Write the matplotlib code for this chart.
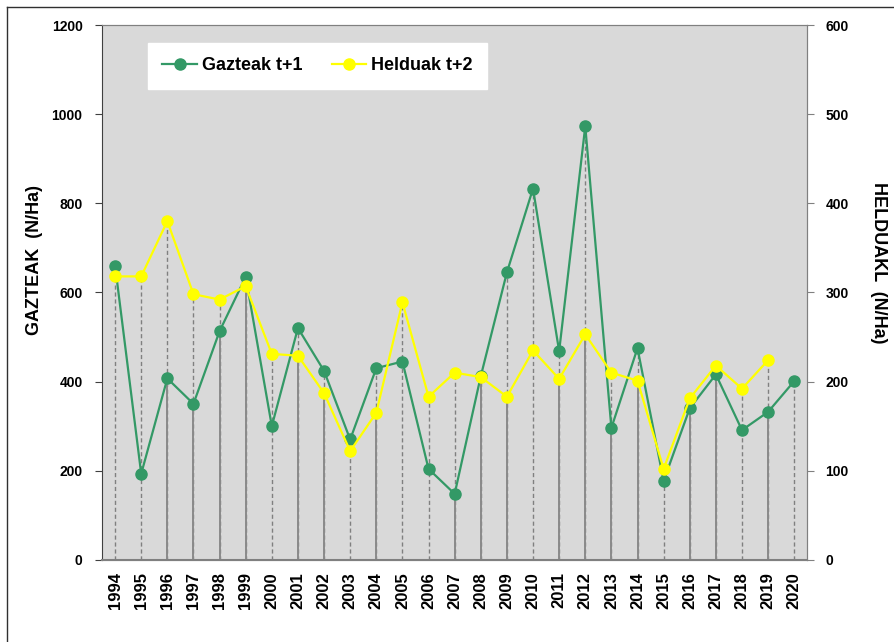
import matplotlib.pyplot as plt
import numpy as np
from matplotlib.lines import Line2D

# years on the x axis
years = [str(y) for y in range(1994, 2021)]

# Gazteak t+1 (left axis, N/Ha)
gazteak = [660, 193, 407, 350, 513, 635, 300, 520, 424, 270, 430, 445, 204,
           148, 412, 645, 833, 468, 973, 296, 475, 177, 340, 416, 291, 332, 401]

# Helduak t+2 (right axis, N/Ha) - no value for 2020
helduak = [318, 318, 380, 298, 292, 307, 231, 229, 187, 122, 165, 289, 183,
           210, 205, 183, 235, 203, 253, 210, 201, 102, 181, 218, 192, 224, np.nan]

# which years show a solid drop line below the lower point
solid_drop = [0, 0, 1, 1, 1, 1, 0, 1, 1, 0, 1, 0, 0,
              1, 1, 1, 0, 1, 1, 1, 1, 0, 1, 1, 0, 1, 0]

green = '#339966'
yellow = '#ffff00'
grey = '#808080'

plt.rcParams['font.family'] = ['Liberation Sans', 'DejaVu Sans']
plt.rcParams['font.weight'] = 'bold'

fig = plt.figure(figsize=(8.95, 6.42), dpi=100)
ax = fig.add_axes([0.114, 0.128, 0.788, 0.833])
ax2 = ax.twinx()

x = np.arange(len(years))
g = np.array(gazteak, dtype=float)
h = np.array(helduak, dtype=float) * 2  # right axis is half the left scale

# drop lines
for i in x:
    top = np.nanmax([g[i], h[i]])
    low = np.nanmin([g[i], h[i]])
    ax.vlines(i, 0, top, colors=grey, linestyles=(0, (3, 2)), linewidth=1.0, zorder=1)
    if solid_drop[i]:
        ax.vlines(i, 0, low, colors='#8a8a8a', linewidth=1.4, zorder=1)

ax.plot(x, gazteak, color=green, linewidth=1.6, marker='o', markersize=8,
        zorder=3)
ax2.plot(x, helduak, color=yellow, linewidth=1.6, marker='o', markersize=8,
         zorder=3)

ax.set_facecolor('#d9d9d9')
ax2.set_facecolor('none')
ax.set_xlim(-0.5, len(years) - 0.5)
ax.set_ylim(0, 1200)
ax2.set_ylim(0, 600)
ax.set_yticks(range(0, 1201, 200))
ax2.set_yticks(range(0, 601, 100))

ax.set_xticks(x)
ax.set_xticklabels(years, rotation=90, fontsize=12, fontweight='bold')
ax.tick_params(axis='x', length=0, pad=9)
ax.tick_params(axis='y', length=5, pad=9, labelsize=10, color='#404040')
ax2.tick_params(axis='y', length=5, pad=8, labelsize=10, color=grey)

for sp in ['top', 'bottom', 'right']:
    ax.spines[sp].set_color(grey)
    ax2.spines[sp].set_color(grey)
ax.spines['left'].set_color('#404040')
ax2.spines['left'].set_visible(False)
ax.spines['bottom'].set_linewidth(1.5)

ax.set_ylabel('GAZTEAK  (N/Ha)', fontsize=13, fontweight='bold')
ax.yaxis.set_label_coords(-0.083, 0.56)
ax2.set_ylabel('HELDUAKL  (N/Ha)', fontsize=13, fontweight='bold', rotation=270)
ax2.yaxis.set_label_coords(1.113, 0.555)

handles = [Line2D([], [], color=green, linewidth=1.6, marker='o', markersize=8),
           Line2D([], [], color=yellow, linewidth=1.6, marker='o', markersize=8)]
leg = ax2.legend(handles, ['Gazteak t+1', 'Helduak t+2'], ncol=2,
                 loc='upper left', bbox_to_anchor=(148 / 895, 1 - 43 / 642),
                 bbox_transform=fig.transFigure, prop={'size': 13, 'weight': 'bold'},
                 fancybox=False, framealpha=1, edgecolor='white',
                 handlelength=1.9, handletextpad=0.3, columnspacing=1.6,
                 borderpad=0.8, borderaxespad=0)

# thin chart border (left and top edges visible)
fig.add_artist(Line2D([7 / 895, 7 / 895], [0, 1 - 7 / 642], color='#303030',
                      linewidth=1, transform=fig.transFigure))
fig.add_artist(Line2D([7 / 895, 1], [1 - 7 / 642, 1 - 7 / 642], color='#303030',
                      linewidth=1, transform=fig.transFigure))

fig.savefig('out.png', dpi=100)
